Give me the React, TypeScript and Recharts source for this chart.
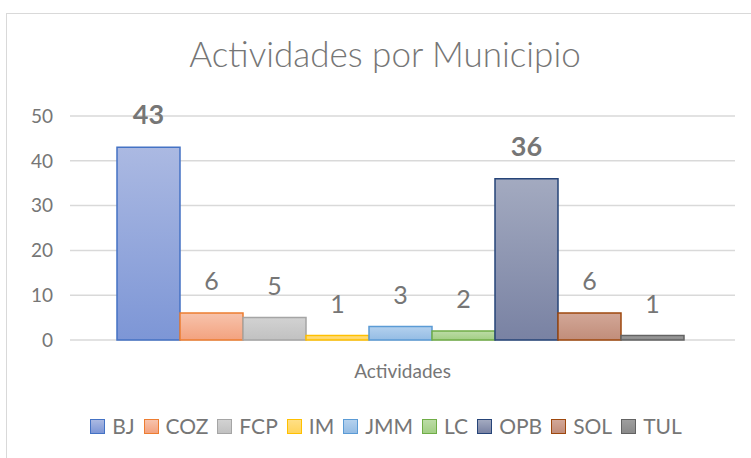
import { BarChart, Bar, XAxis, YAxis, CartesianGrid, LabelList } from 'recharts';

const categories = ['Actividades'];
const municipios = ['BJ', 'COZ', 'FCP', 'IM', 'JMM', 'LC', 'OPB', 'SOL', 'TUL'];
const actividades = [43, 6, 5, 1, 3, 2, 36, 6, 1];
const boldLabels = ['BJ', 'OPB'];
const yTicks = [0, 10, 20, 30, 40, 50];

// colores por serie: borde, degradado arriba, degradado abajo
const seriesColors: Record<string, { stroke: string; top: string; bottom: string }> = {
  BJ: { stroke: '#4472c4', top: '#abb9e2', bottom: '#7d96d6' },
  COZ: { stroke: '#ed7d31', top: '#f7c3ac', bottom: '#f3a27f' },
  FCP: { stroke: '#a5a5a5', top: '#d2d2d2', bottom: '#c1c1c1' },
  IM: { stroke: '#ffc000', top: '#ffdf86', bottom: '#ffd45c' },
  JMM: { stroke: '#5b9bd5', top: '#b4d1ee', bottom: '#94bce4' },
  LC: { stroke: '#70ad47', top: '#bcdca6', bottom: '#a2ce84' },
  OPB: { stroke: '#264478', top: '#a3aac0', bottom: '#7982a3' },
  SOL: { stroke: '#9e480e', top: '#d2a797', bottom: '#c18d7a' },
  TUL: { stroke: '#636363', top: '#9e9e9e', bottom: '#8a8a8a' },
};

const textColor = '#767676';

export default function App() {
  const row: Record<string, string | number> = { name: categories[0] };
  municipios.forEach((m, i) => {
    row[m] = actividades[i];
  });
  const data = [row];

  return (
    <div
      style={{
        position: 'absolute',
        left: 0,
        top: 0,
        width: 751,
        height: 458,
        overflow: 'hidden',
        background: '#fff',
        fontFamily: 'Lato, sans-serif',
      }}
    >
      <div
        style={{
          position: 'absolute',
          left: 6,
          top: 13,
          width: 800,
          height: 500,
          border: '1.5px solid #d9d9d9',
        }}
      />
      <div
        style={{
          position: 'absolute',
          left: 0,
          top: 33,
          width: 770,
          textAlign: 'center',
          fontSize: 35,
          fontWeight: 300,
          lineHeight: '40px',
          color: textColor,
        }}
      >
        Actividades por Municipio
      </div>
      <div style={{ position: 'absolute', left: 0, top: 0 }}>
        <BarChart
          width={751}
          height={458}
          data={data}
          margin={{ top: 116, right: 16, bottom: 88, left: 0 }}
          barGap={0}
          barCategoryGap={47}
        >
          <defs>
            {municipios.map((m) => (
              <linearGradient key={m} id={`grad-${m}`} x1="0" y1="0" x2="0" y2="1">
                <stop offset="0%" stopColor={seriesColors[m].top} />
                <stop offset="100%" stopColor={seriesColors[m].bottom} />
              </linearGradient>
            ))}
          </defs>
          <CartesianGrid vertical={false} stroke="#d9d9d9" strokeWidth={1.5} />
          <XAxis
            dataKey="name"
            axisLine={false}
            tickLine={false}
            tickSize={0}
            tickMargin={25}
            height={30}
            tick={{ fill: textColor, fontSize: 19 }}
          />
          <YAxis
            domain={[0, 50]}
            ticks={yTicks}
            axisLine={false}
            tickLine={false}
            tickSize={0}
            tickMargin={17}
            width={70}
            tick={{ fill: textColor, fontSize: 19 }}
          />
          {municipios.map((m) => (
            <Bar
              key={m}
              dataKey={m}
              fill={`url(#grad-${m})`}
              stroke={seriesColors[m].stroke}
              strokeWidth={1.5}
              isAnimationActive={false}
            >
              <LabelList
                dataKey={m}
                position="top"
                offset={23}
                fill={textColor}
                fontSize={boldLabels.includes(m) ? 27 : 25}
                fontWeight={boldLabels.includes(m) ? 700 : 400}
              />
            </Bar>
          ))}
        </BarChart>
      </div>
      <div
        style={{
          position: 'absolute',
          left: 0,
          top: 414,
          width: 772,
          display: 'flex',
          justifyContent: 'center',
          alignItems: 'center',
          gap: 9,
          fontSize: 21,
          lineHeight: '24px',
          color: textColor,
        }}
      >
        {municipios.map((m) => (
          <div key={m} style={{ display: 'flex', alignItems: 'center' }}>
            <span
              style={{
                display: 'inline-block',
                width: 13,
                height: 13,
                border: `1.5px solid ${seriesColors[m].stroke}`,
                background: `linear-gradient(${seriesColors[m].top}, ${seriesColors[m].bottom})`,
                marginRight: 7,
              }}
            />
            <span>{m}</span>
          </div>
        ))}
      </div>
    </div>
  );
}
